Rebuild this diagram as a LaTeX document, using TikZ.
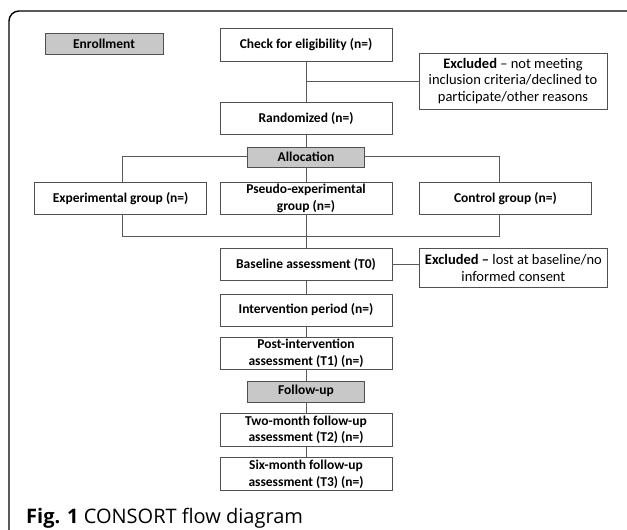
\documentclass[tikz,border=0pt]{standalone}
\usepackage{fontspec}
\setmainfont{Carlito}
\newfontfamily\capfont{Open Sans}
\usepackage{tikz}
\usetikzlibrary{positioning}
\definecolor{boxline}{HTML}{505050}
\definecolor{boxgray}{HTML}{C8C8C8}
\definecolor{wire}{HTML}{5A5A5A}

\begin{document}
\begin{tikzpicture}[x=1pt,y=-1pt,node distance=11pt]
    \tikzset{n/.style={draw=boxline,fill=white,minimum width=172pt,minimum height=32pt,inner sep=1pt,align=center,font=\fontsize{13.5}{16.5}\selectfont\bfseries}, g/.style={n,fill=boxgray,minimum width=117pt,minimum height=20pt}, ex/.style={n,minimum width=188pt,font=\fontsize{14.5}{16.5}\selectfont}, w/.style={draw=wire,line width=0.9pt}}
    \useasboundingbox (0,0) rectangle (627,530);
    \clip (0,0) rectangle (627,530);
    \draw[line width=1.4pt,rounded corners=10pt] (9,11) rectangle (660,570);
    % enrollment
    \node[g,minimum width=118pt,minimum height=21pt] (enr) at (104,43.5) {Enrollment};
    \node[n,minimum height=33pt] (chk) at (306,44.5) {Check for eligibility (n=)};
    \node[ex,minimum height=56pt] (exc1) at (513,81) {\textbf{Excluded} – not meeting\\inclusion criteria/declined to\\participate/other reasons};
    \node[n,below=41pt of chk] (rand) {Randomized (n=)};
    % allocation
    \node[g,below=12pt of rand] (alloc) {Allocation};
    \node[n,below=15pt of alloc] (pseudo) {Pseudo-experimental\\group (n=)};
    \node[n,left=13pt of pseudo] (exp) {Experimental group (n=)};
    \node[n,right=27pt of pseudo] (ctrl) {Control group (n=)};
    \node[n,below=34pt of pseudo] (base) {Baseline assessment (T0)};
    \node[ex,minimum height=39pt,right=27pt of base.north east,anchor=north west] (exc2) {\textbf{Excluded –} lost at baseline/no\\informed consent};
    \node[n,below=13pt of base] (intv) {Intervention period (n=)};
    \node[n,below=of intv] (post) {Post-intervention\\assessment (T1) (n=)};
    % follow-up
    \node[g,minimum height=21pt,below=of post] (fup) {Follow-up};
    \node[n,minimum height=33pt,below=of fup] (two) {Two-month follow-up\\assessment (T2) (n=)};
    \node[n,minimum height=33pt,below=of two] (six) {Six-month follow-up\\assessment (T3) (n=)};
    \path (alloc.west) ++(-125,0) coordinate (bl); \path (alloc.east) ++(135,0) coordinate (br); \path (pseudo.south) ++(0,22) coordinate (jn);
    \draw[w] (chk) -- (rand) -- (alloc) -- (pseudo) -- (base) -- (intv) -- (post) -- (fup) -- (two) -- (six);
    \draw[w] (chk.south |- exc1.west) -- (exc1.west);
    \draw[w] (alloc.west) -- (bl) -- (bl |- exp.north); \draw[w] (alloc.east) -- (br) -- (br |- ctrl.north);
    \draw[w] (bl |- exp.south) |- (jn) -| (br |- ctrl.south);
    \draw[w] (base.east) -- (base.east -| exc2.west);
    \node[anchor=base west,inner sep=0pt,font=\capfont\fontsize{20}{24}\selectfont] (cap) at (26,523) {{\bfseries Fig. 1} CONSORT flow diagram};
  \end{tikzpicture}
\end{document}
